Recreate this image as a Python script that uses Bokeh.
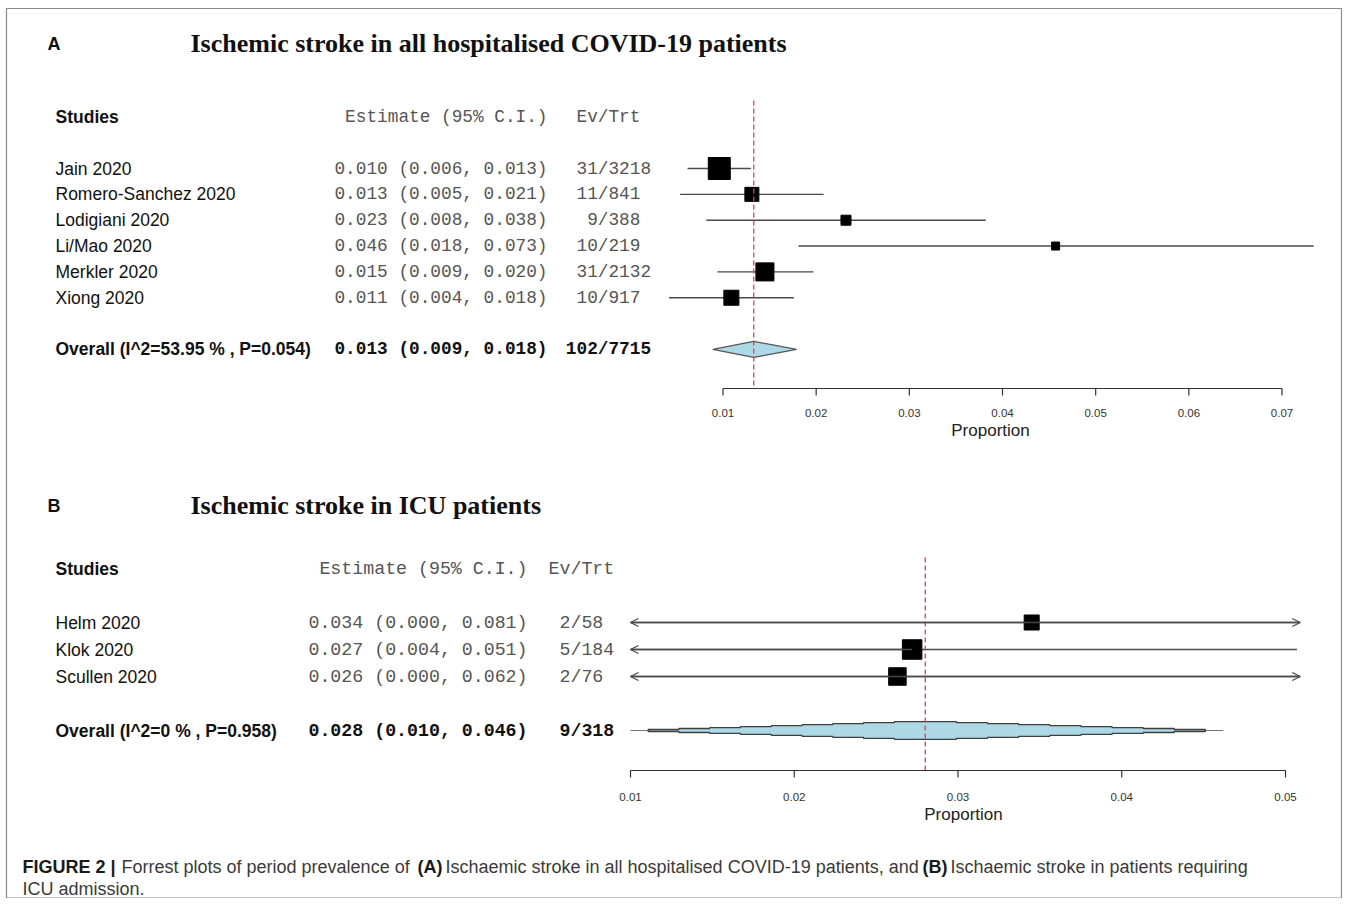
from bokeh.plotting import figure
from bokeh.models import Range1d, ColumnDataSource, Arrow, OpenHead
from bokeh.core.properties import value
from bokeh.embed import file_html
from bokeh.resources import INLINE

# ---------------- data : panel A ----------------
title_a = "Ischemic stroke in all hospitalised COVID-19 patients"
studies_a = ["Jain 2020", "Romero-Sanchez 2020", "Lodigiani 2020", "Li/Mao 2020",
             "Merkler 2020", "Xiong 2020"]
est_a = [0.0096, 0.0131, 0.0232, 0.0457, 0.0145, 0.0109]
lo_a = [0.0062, 0.0054, 0.0082, 0.0181, 0.0094, 0.0042]
hi_a = [0.0130, 0.0208, 0.0382, 0.0734, 0.0197, 0.0176]
weight_a = [34.7, 14.1, 7.2, 4.6, 23.3, 16.2]
ci_text_a = ["0.010 (0.006, 0.013)", "0.013 (0.005, 0.021)", "0.023 (0.008, 0.038)",
             "0.046 (0.018, 0.073)", "0.015 (0.009, 0.020)", "0.011 (0.004, 0.018)"]
evtrt_a = ["31/3218", "11/841", "9/388", "10/219", "31/2132", "10/917"]
overall_label_a = "Overall (I^2=53.95 % , P=0.054)"
overall_est_a = 0.0133
overall_lo_a = 0.0089
overall_hi_a = 0.0179
overall_ci_a = "0.013 (0.009, 0.018)"
overall_evtrt_a = "102/7715"
ticks_a = [0.01, 0.02, 0.03, 0.04, 0.05, 0.06, 0.07]
tick_labels_a = ["0.01", "0.02", "0.03", "0.04", "0.05", "0.06", "0.07"]

# ---------------- data : panel B ----------------
title_b = "Ischemic stroke in ICU patients"
studies_b = ["Helm 2020", "Klok 2020", "Scullen 2020"]
est_b = [0.0345, 0.0272, 0.0263]
lo_b = [0.000, 0.004, 0.000]
hi_b = [0.081, 0.0507, 0.062]
weight_b = [24.7, 41.7, 33.6]
ci_text_b = ["0.034 (0.000, 0.081)", "0.027 (0.004, 0.051)", "0.026 (0.000, 0.062)"]
evtrt_b = ["2/58", "5/184", "2/76"]
overall_label_b = "Overall (I^2=0 % , P=0.958)"
overall_est_b = 0.0280
overall_lo_b = 0.0100
overall_hi_b = 0.0462
overall_ci_b = "0.028 (0.010, 0.046)"
overall_evtrt_b = "9/318"
ticks_b = [0.01, 0.02, 0.03, 0.04, 0.05]
tick_labels_b = ["0.01", "0.02", "0.03", "0.04", "0.05"]
clip_b = (0.0100, 0.0509)

header_studies = "Studies"
header_est = "Estimate (95% C.I.)"
header_evtrt = "Ev/Trt"
axis_title = "Proportion"

caption_parts = [("FIGURE 2 |", "bold"),
                 ("Forrest plots of period prevalence of", "normal"),
                 ("(A)", "bold"),
                 ("Ischaemic stroke in all hospitalised COVID-19 patients, and", "normal"),
                 ("(B)", "bold"),
                 ("Ischaemic stroke in patients requiring", "normal")]
caption_line2 = "ICU admission."

# ---------------- layout / style ----------------
W, H = 1342, 898
OX, OY = 0, 0          # canvas origin in picture pixels
SANS = value("Liberation Sans")
SERIF = value("Liberation Serif")
MONO = value("Liberation Mono")
LINE = "#4a4a4a"
RED = "#ea3f3a"
MONO_COL = "#555555"

p = figure(width=W, height=H, output_backend="svg", toolbar_location=None,
           x_range=Range1d(OX, OX + W), y_range=Range1d(OY + H, OY),
           x_axis_location=None, y_axis_location=None, min_border=0)
p.grid.visible = False
p.outline_line_color = None
p.background_fill_color = "white"
p.border_fill_color = "white"

# figure frame
p.quad(left=[6], right=[W - 1], top=[8], bottom=[H - 0.5], fill_color=None,
       line_color="#8a8a8a", line_width=1.2)


def lin_range(v0, px0, v1, px1):
    s = (px1 - px0) / (v1 - v0)
    return Range1d(v0 - (px0 - OX) / s, v0 + (OX + W - px0) / s)


def row_range(y1, dy):
    return Range1d(1 + (OY + H - y1) / dy, 1 + (OY - y1) / dy)


p.extra_x_ranges = {"A": lin_range(0.01, 722.5, 0.07, 1281.5),
                    "B": lin_range(0.01, 630.0, 0.05, 1285.0)}
p.extra_y_ranges = {"A": row_range(168.0, 25.85), "B": row_range(622.0, 27.0)}


def txt(x, y, t, font=SANS, size="17.5px", style="normal", color="#111111",
        align="left", yr="default", xr="default"):
    p.text(x=x, y=y, text=t, text_font=font, text_font_size=size,
           text_font_style=style, text_color=color, text_align=align,
           text_baseline="middle", x_range_name=xr, y_range_name=yr)


def panel(name, letter, title, title_y, studies, est, lo, hi, weight, ci_text, evtrt,
          ov_label, ov_est, ov_lo, ov_hi, ov_ci, ov_evtrt, ticks, tick_labels,
          est_right, evtrt_left, mono_size, charw, max_sq, axis_y, tick_lab_y,
          prop_x, prop_y, red_top, half_h, clip=None, stepped=False):
    n = len(studies)
    rows = list(range(1, n + 1))
    ov_row = n + 2
    hdr_row = -1

    # letter and title
    txt([47], [title_y], [letter], size="18px", style="bold", color="#111111")
    txt([190], [title_y], [title], font=SERIF, size="26px", style="bold", color="#111111")

    # headers
    txt([55], [hdr_row], [header_studies], style="bold", yr=name)
    txt([est_right], [hdr_row], [header_est], font=MONO, size=mono_size,
        color=MONO_COL, align="right", yr=name)
    slash_x = evtrt_left + charw * 2
    txt([slash_x - charw * header_evtrt.index("/")], [hdr_row], [header_evtrt],
        font=MONO, size=mono_size, color=MONO_COL, yr=name)

    # study rows
    txt([55] * n, rows, studies, yr=name)
    txt([est_right] * n, rows, ci_text, font=MONO, size=mono_size, color=MONO_COL,
        align="right", yr=name)
    ev_x = [slash_x - charw * s.index("/") for s in evtrt]
    txt(ev_x, rows, evtrt, font=MONO, size=mono_size, color=MONO_COL, yr=name)

    # overall row
    txt([55], [ov_row], [ov_label], style="bold", yr=name)
    txt([est_right], [ov_row], [ov_ci], font=MONO, size=mono_size, style="bold",
        color="#111111", align="right", yr=name)
    txt([slash_x - charw * ov_evtrt.index("/")], [ov_row], [ov_evtrt], font=MONO,
        size=mono_size, style="bold", color="#111111", yr=name)

    # confidence intervals
    if clip is None:
        x0, x1 = lo, hi
    else:
        x0 = [max(v, clip[0]) for v in lo]
        x1 = [min(v, clip[1]) for v in hi]
    p.segment(x0=x0, x1=x1, y0=rows, y1=rows, line_color=LINE, line_width=1.4,
              x_range_name=name, y_range_name=name)
    if clip is not None:
        xs, xe, ya = [], [], []
        for e, l, h, r in zip(est, lo, hi, rows):
            if l < clip[0]:
                xs.append(e); xe.append(clip[0]); ya.append(r)
            if h > clip[1]:
                xs.append(e); xe.append(clip[1]); ya.append(r)
        src = ColumnDataSource(dict(xs=xs, xe=xe, y=ya))
        p.add_layout(Arrow(end=OpenHead(size=8, line_color=LINE, line_width=1.3),
                           x_start="xs", y_start="y", x_end="xe", y_end="y",
                           source=src, line_color=LINE, line_width=1.4,
                           x_range_name=name, y_range_name=name))

    # study squares (size from weights)
    wmax = max(weight)
    sizes = [max_sq * (w / wmax) ** 0.5 for w in weight]
    p.scatter(x=est, y=rows, size=sizes, marker="square", fill_color="black",
              line_color="black", x_range_name=name, y_range_name=name)

    # overall diamond
    if not stepped:
        p.patch(x=[ov_lo, ov_est, ov_hi, ov_est],
                y=[ov_row, ov_row - half_h, ov_row, ov_row + half_h],
                fill_color="#add8e6", line_color="#555555", line_width=1.2,
                x_range_name=name, y_range_name=name)
    else:
        p.segment(x0=[ov_lo], x1=[ov_hi], y0=[ov_row], y1=[ov_row],
                  line_color="#777777", line_width=1.2,
                  x_range_name=name, y_range_name=name)
        nst = 9
        wl = (ov_est - ov_lo) * 0.94
        wr = (ov_hi - ov_est) * 0.94
        upper = []
        for j in range(nst):
            xl = ov_est - wl * (1 - j / nst)
            upper.append((xl, half_h * j / nst))
            upper.append((xl, half_h * (j + 1) / nst))
        for j in range(nst - 1, -1, -1):
            xr = ov_est + wr * (1 - j / nst)
            upper.append((xr, half_h * (j + 1) / nst))
            upper.append((xr, half_h * j / nst))
        lower = [(x, -y) for (x, y) in reversed(upper)]
        poly = upper + lower
        p.patch(x=[q[0] for q in poly], y=[ov_row - q[1] for q in poly],
                fill_color="#add8e6", line_color="#3f3f3f", line_width=1.3,
                x_range_name=name, y_range_name=name)

    # reference (overall) dashed line
    p.segment(x0=[ov_est], x1=[ov_est], y0=[red_top], y1=[axis_y],
              line_color=RED, line_width=1.3, line_dash="5 3", x_range_name=name)

    # x axis
    p.segment(x0=[ticks[0]], x1=[ticks[-1]], y0=[axis_y], y1=[axis_y],
              line_color="#333333", line_width=1.2, x_range_name=name)
    p.segment(x0=ticks, x1=ticks, y0=[axis_y] * len(ticks),
              y1=[axis_y + 7] * len(ticks), line_color="#333333", line_width=1.2,
              x_range_name=name)
    txt(ticks, [tick_lab_y] * len(ticks), tick_labels, size="11.5px",
        color="#333333", align="center", xr=name)
    txt([prop_x], [prop_y], [axis_title], size="17px", color="#222222", align="center")


panel("A", "A", title_a, 43, studies_a, est_a, lo_a, hi_a, weight_a, ci_text_a, evtrt_a,
      overall_label_a, overall_est_a, overall_lo_a, overall_hi_a, overall_ci_a,
      overall_evtrt_a, ticks_a, tick_labels_a,
      est_right=334 + 20 * 10.65, evtrt_left=576, mono_size="17.75px", charw=10.65,
      max_sq=22, axis_y=388, tick_lab_y=412, prop_x=990, prop_y=430,
      red_top=100, half_h=0.31)

panel("B", "B", title_b, 505, studies_b, est_b, lo_b, hi_b, weight_b, ci_text_b, evtrt_b,
      overall_label_b, overall_est_b, overall_lo_b, overall_hi_b, overall_ci_b,
      overall_evtrt_b, ticks_b, tick_labels_b,
      est_right=308 + 20 * 10.95, evtrt_left=559 - 10.95, mono_size="18.25px",
      charw=10.95, max_sq=19.5, axis_y=770, tick_lab_y=796, prop_x=963, prop_y=814,
      red_top=557, half_h=0.33, clip=clip_b, stepped=True)

# caption
cap_x = [22, 121, 417, 445, 922, 950]
for (t, st), cx in zip(caption_parts, cap_x):
    txt([cx], [866], [t], size="18px", style=st,
        color="#1a1a1a" if st == "bold" else "#3a3a3a")
txt([22], [888], [caption_line2], size="18px", color="#3a3a3a")

open("out.html", "w").write(file_html(p, INLINE))
